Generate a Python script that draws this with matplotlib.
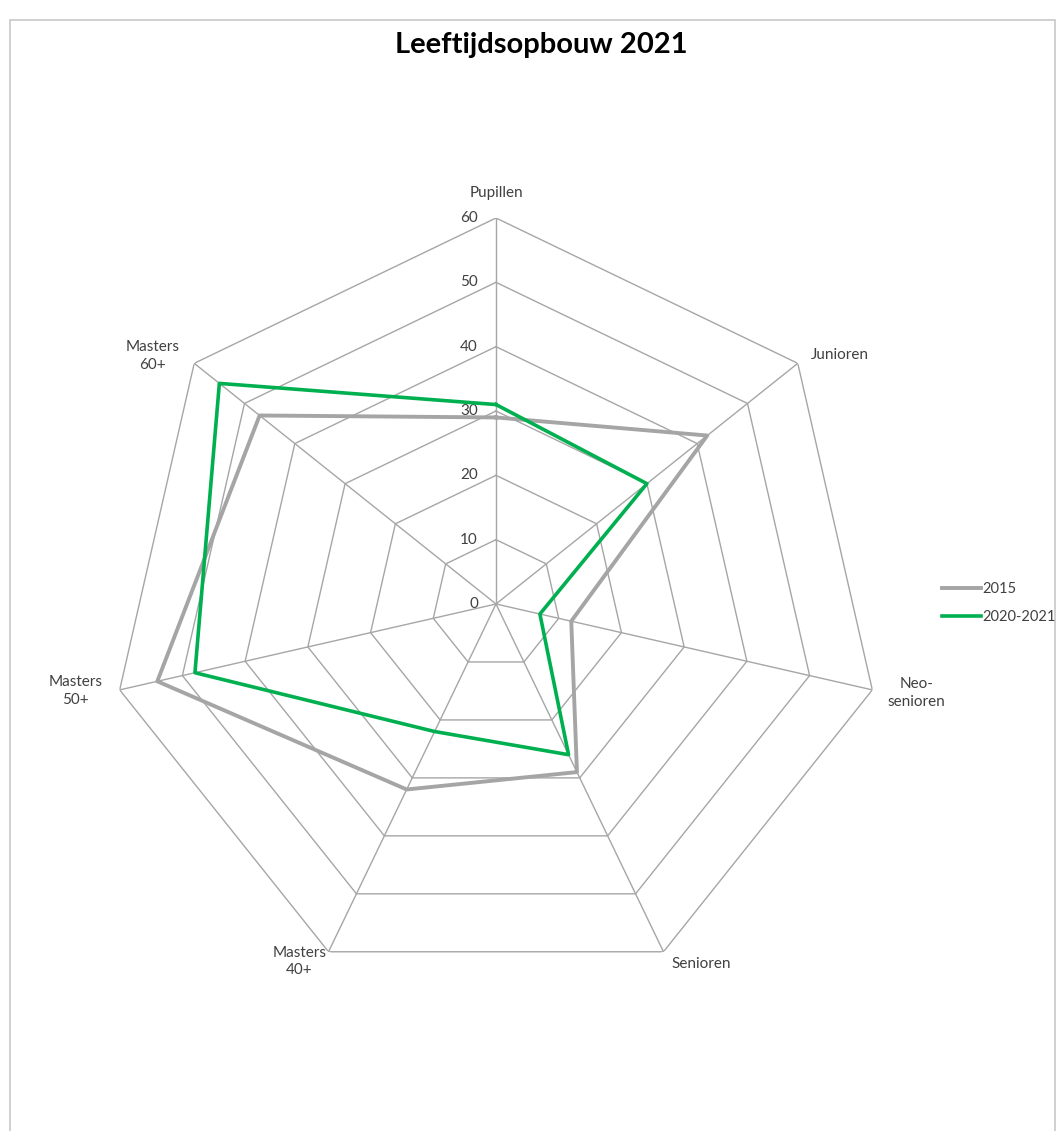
import numpy as np
import matplotlib
matplotlib.use('Agg')
import matplotlib.pyplot as plt
from matplotlib.patches import Rectangle

plt.rcParams['font.family'] = ['Lato', 'DejaVu Sans']

categories = ['Pupillen', 'Junioren', 'Neo-\nsenioren', 'Senioren',
              'Masters\n40+', 'Masters\n50+', 'Masters\n60+']
values_2015 = [29, 42, 12, 29, 32, 54, 47]
values_2021 = [31, 30, 7, 26, 22, 48, 55]
series_names = ['2015', '2020-2021']
ticks = [0, 10, 20, 30, 40, 50, 60]

n = len(categories)
angles = np.arange(n) * 2 * np.pi / n
angles_closed = np.append(angles, angles[0])

fig = plt.figure(figsize=(10.62, 11.31), dpi=100)

# chart border
fig.patches.append(Rectangle((10 / 1062, -0.01), 1045 / 1062, 1.001 - 10 / 1131,
                             transform=fig.transFigure, fill=False,
                             edgecolor='#c8c8c8', lw=1.2))

ax = fig.add_axes([110 / 1062, 141 / 1131, 772 / 1062, 772 / 1131], projection='polar')
ax.set_theta_offset(np.pi / 2)
ax.set_theta_direction(-1)
ax.set_ylim(0, 60)
ax.grid(False)
ax.set_xticks([])
ax.set_yticks([])
ax.spines['polar'].set_visible(False)
ax.patch.set_alpha(0)

grid_col = '#a6a6a6'
# polygon gridlines
for t in ticks[1:]:
    ax.plot(angles_closed, [t] * (n + 1), color=grid_col, lw=1.0, zorder=1)
# spokes
for a in angles:
    ax.plot([a, a], [0, 60], color=grid_col, lw=1.0, zorder=1)

# tick labels
for t in ticks:
    ax.annotate(str(t), xy=(0, t), xytext=(-13, 0), textcoords='offset points',
                ha='right', va='center', fontsize=11, color='#404040')

# category labels
offsets = [(0, 18), (30, 6), (32, -2), (27, -9), (-21, -7), (-32, -1), (-30, 5)]
for a, lab, off in zip(angles, categories, offsets):
    ax.annotate(lab, xy=(a, 60), xytext=off, textcoords='offset points',
                ha='center', va='center', fontsize=11, color='#404040',
                linespacing=1.35)

l1, = ax.plot(angles_closed, values_2015 + values_2015[:1], color='#a5a5a5', lw=2.8,
              zorder=3, label=series_names[0])
l2, = ax.plot(angles_closed, values_2021 + values_2021[:1], color='#00b050', lw=2.6,
              zorder=4, label=series_names[1])

fig.legend(handles=[l1, l2], loc='center left', bbox_to_anchor=(936 / 1062, 1 - 603 / 1131),
           frameon=False, fontsize=10.5, handlelength=2.7, handletextpad=0.1,
           labelspacing=1.0, borderaxespad=0, labelcolor='#404040')

fig.text(541 / 1062, 1 - 45 / 1131, 'Leeftijdsopbouw 2021', ha='center', va='center',
         fontsize=21, fontweight='bold', color='black')

fig.savefig('out.png', dpi=100)
